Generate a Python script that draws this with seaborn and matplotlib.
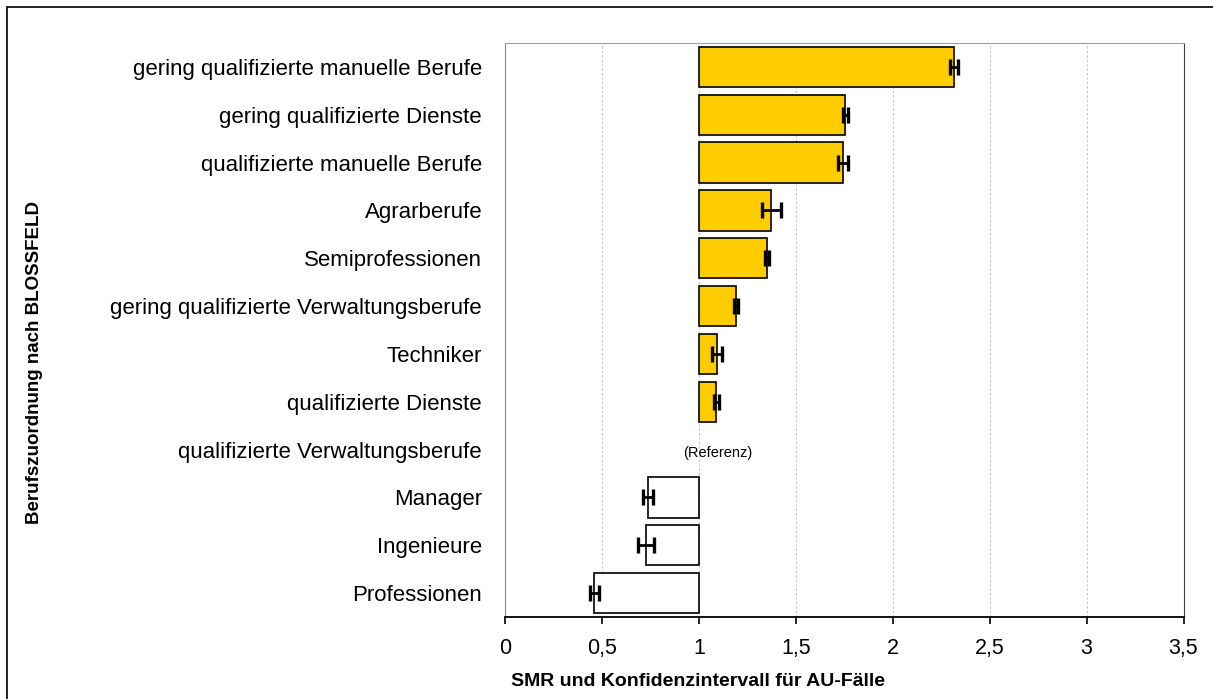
import numpy as np
import pandas as pd
import matplotlib
matplotlib.use("Agg")
import matplotlib.pyplot as plt
from matplotlib.patches import Rectangle
from matplotlib.ticker import FuncFormatter
import seaborn as sns

# data
berufe = ["gering qualifizierte manuelle Berufe", "gering qualifizierte Dienste",
          "qualifizierte manuelle Berufe", "Agrarberufe", "Semiprofessionen",
          "gering qualifizierte Verwaltungsberufe", "Techniker", "qualifizierte Dienste",
          "qualifizierte Verwaltungsberufe", "Manager", "Ingenieure", "Professionen"]
smr = [2.316, 1.756, 1.742, 1.370, 1.352, 1.193, 1.093, 1.090, 1.0, 0.737, 0.727, 0.461]
ci_lo = [2.297, 1.746, 1.717, 1.324, 1.341, 1.183, 1.070, 1.078, np.nan, 0.711, 0.684, 0.439]
ci_hi = [2.338, 1.770, 1.770, 1.422, 1.362, 1.203, 1.121, 1.103, np.nan, 0.764, 0.771, 0.485]
referenz = "qualifizierte Verwaltungsberufe"
x_ticks = [0, 0.5, 1, 1.5, 2, 2.5, 3, 3.5]

df = pd.DataFrame({"beruf": berufe, "smr": smr, "lo": ci_lo, "hi": ci_hi})
df["delta"] = df["smr"] - 1
farben = {b: ("#FFCC00" if s >= 1 else "white") for b, s in zip(berufe, smr)}

sns.set_style("white")
plt.rcParams["font.family"] = ["Liberation Sans", "DejaVu Sans"]
plt.rcParams["text.color"] = "black"
plt.rcParams["xtick.color"] = "black"
plt.rcParams["ytick.color"] = "black"

fig = plt.figure(figsize=(12.13, 6.99), dpi=100)
ax = fig.add_axes([505 / 1213, 82 / 699, 678.5 / 1213, 574 / 699])

sns.barplot(data=df, x="delta", y="beruf", hue="beruf", palette=farben, legend=False,
            orient="y", left=1, width=0.84, saturation=1, edgecolor="black",
            linewidth=1.2, ax=ax)
for p in ax.patches:
    if abs(p.get_width()) < 1e-9:
        p.set_visible(False)

# confidence intervals
pos = np.arange(len(df))
ok = df["lo"].notna().values
ax.errorbar(df["smr"][ok], pos[ok],
            xerr=[(df["smr"] - df["lo"])[ok], (df["hi"] - df["smr"])[ok]],
            fmt="none", ecolor="black", elinewidth=2, capsize=5.5, capthick=2.4, zorder=5)

ax.text(1.1, berufe.index(referenz) + 0.07, "(Referenz)", fontsize=10.5,
        ha="center", va="center")

ax.set_xlim(0, 3.5)
ax.set_ylim(len(berufe) - 0.5, -0.5)
ax.set_xticks(x_ticks)
ax.xaxis.set_major_formatter(FuncFormatter(lambda v, _: f"{v:g}".replace(".", ",")))
ax.set_xlabel("")
ax.set_ylabel("")
ax.xaxis.grid(True, color="#c4c4c4", linestyle=(0, (2, 2)), linewidth=0.8)
ax.yaxis.grid(False)
ax.set_axisbelow(True)

ax.tick_params(axis="x", direction="out", length=5, width=1.2, color="black",
               labelsize=15.5, pad=10, bottom=True)
ax.tick_params(axis="y", length=0, labelsize=16, pad=16.5)

ax.spines["bottom"].set_color("black")
ax.spines["bottom"].set_linewidth(1.3)
ax.spines["left"].set_color("#8c8c8c")
ax.spines["top"].set_color("#a0a0a0")
ax.spines["right"].set_color("#404040")
for s in ax.spines.values():
    s.set_visible(True)

fig.text(698 / 1213, 1 - 681 / 699, "SMR und Konfidenzintervall für AU-Fälle",
         fontsize=14, fontweight="bold", ha="center", va="center")
fig.text(35 / 1213, 1 - 363 / 699, "Berufszuordnung nach BLOSSFELD",
         fontsize=13.5, fontweight="bold", rotation=90, ha="center", va="center")

# outer chart frame
fig.patches.append(Rectangle((7 / 1213, -0.1), 1.2, 1.1 - 7 / 699, transform=fig.transFigure,
                             fill=False, edgecolor="black", linewidth=1.2))

fig.savefig("out.png", dpi=100)
